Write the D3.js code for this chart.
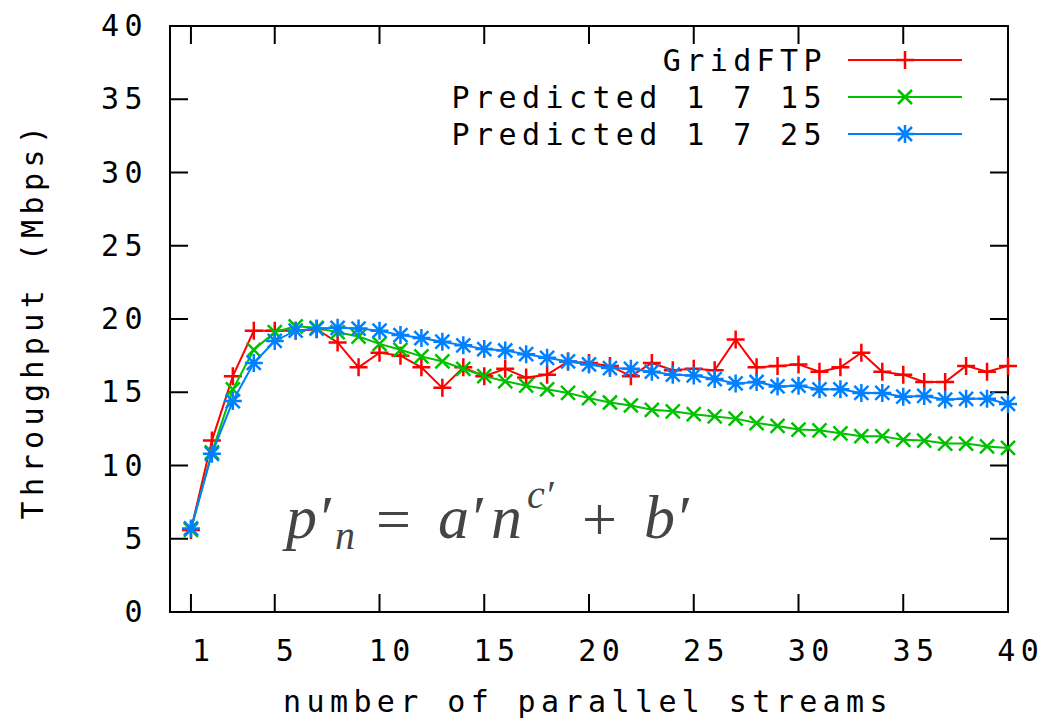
<!DOCTYPE html>
<html><head><meta charset="utf-8">
<script src="https://cdn.jsdelivr.net/npm/d3@7"></script>
<style>
html,body{margin:0;padding:0;background:#fff;}
svg{display:block;}
.lbl{font-family:"DejaVu Sans Mono",monospace;font-size:30px;letter-spacing:5.4px;fill:#000;}
.math{font-family:"Liberation Serif","DejaVu Serif",serif;fill:#444;font-size:62px;}
</style></head>
<body>
<svg id="chart" width="1045" height="719"></svg>
<script>
const streams = d3.range(1, 41);
const gridftp = [5.6,11.7,16.1,19.2,19.2,19.2,19.3,18.4,16.7,17.7,17.5,16.7,15.3,16.7,16.1,16.6,16.0,16.2,17.1,17.0,16.8,16.1,17.0,16.5,16.6,16.5,18.6,16.7,16.8,16.9,16.4,16.7,17.7,16.4,16.2,15.7,15.7,16.8,16.4,16.8];
const pred15 = [5.6,10.9,15.2,17.9,19.1,19.5,19.4,19.1,18.8,18.3,17.9,17.45,17.1,16.6,16.1,15.75,15.45,15.2,14.95,14.6,14.3,14.1,13.8,13.7,13.5,13.35,13.2,12.9,12.7,12.45,12.4,12.2,12.0,12.0,11.75,11.7,11.5,11.5,11.3,11.2];
const pred25 = [5.7,10.8,14.4,17.0,18.5,19.2,19.35,19.4,19.35,19.2,18.9,18.7,18.45,18.2,17.95,17.85,17.6,17.35,17.1,16.9,16.65,16.6,16.4,16.2,16.15,15.9,15.6,15.7,15.4,15.45,15.2,15.2,14.95,14.95,14.7,14.75,14.5,14.55,14.55,14.2];
const seriesNames = ["GridFTP","Predicted 1 7 15","Predicted 1 7 25"];
const seriesColors = ["#ff0000","#00c000","#0080ff"];
const seriesMarkers = ["plus","cross","star"];
const xTicks = [1,5,10,15,20,25,30,35,40];
const yTicks = [0,5,10,15,20,25,30,35,40];
const xTitle = "number of parallel streams";
const yTitle = "Throughput (Mbps)";

const svg = d3.select("#chart");
const L = 170, R = 1008, T = 26, B = 612;
const x = d3.scaleLinear().domain([0,40]).range([L,R]);
const y = d3.scaleLinear().domain([0,40]).range([B,T]);
const tickLen = 18;

// axes with inner ticks (and mirrored)
const g = svg.append("g").attr("stroke","#000").attr("stroke-width",2).attr("fill","none");
xTicks.forEach(t => {
  g.append("line").attr("x1",x(t)).attr("x2",x(t)).attr("y1",B).attr("y2",B-tickLen);
  g.append("line").attr("x1",x(t)).attr("x2",x(t)).attr("y1",T).attr("y2",T+tickLen);
});
yTicks.forEach(t => {
  g.append("line").attr("x1",L).attr("x2",L+tickLen).attr("y1",y(t)).attr("y2",y(t));
  g.append("line").attr("x1",R).attr("x2",R-tickLen).attr("y1",y(t)).attr("y2",y(t));
});
g.append("rect").attr("x",L).attr("y",T).attr("width",R-L).attr("height",B-T);

// tick labels
svg.append("g").selectAll("text").data(xTicks).join("text")
  .attr("class","lbl").attr("text-anchor","middle")
  .attr("x", d => x(d) + 12.7).attr("y", 661).text(d => d);
svg.append("g").selectAll("text").data(yTicks).join("text")
  .attr("class","lbl").attr("text-anchor","end")
  .attr("x", 148).attr("y", d => y(d) + 10).text(d => d);

// titles
svg.append("text").attr("class","lbl").attr("text-anchor","middle")
  .attr("x", 588).attr("y", 712).text(xTitle);
svg.append("text").attr("class","lbl").attr("text-anchor","middle")
  .attr("transform","translate(43,320) rotate(-90)").text(yTitle);

// formula  p'_n = a' n^{c'} + b'
const m = svg.append("text").attr("class","math");
const parts = [
  {t:"p\u2032", x:286, y:538, fs:62, it:true},
  {t:"n", x:335, y:549, fs:40, it:true},
  {t:"=", x:376, y:540, fs:62, it:false},
  {t:"a\u2032", x:438, y:538, fs:62, it:true},
  {t:"n", x:491, y:538, fs:62, it:true},
  {t:"c\u2032", x:527, y:508, fs:40, it:true},
  {t:"+", x:582, y:540, fs:62, it:false},
  {t:"b\u2032", x:644, y:538, fs:62, it:true}
];
parts.forEach(p => {
  m.append("tspan").attr("x",p.x).attr("y",p.y).attr("font-size",p.fs)
   .attr("font-style", p.it ? "italic" : "normal").text(p.t);
});

// markers
function markerPath(type, cx, cy){
  const s = 9, c = 7;
  const plus = `M${cx-s},${cy}H${cx+s}M${cx},${cy-s}V${cy+s}`;
  const cross = `M${cx-c},${cy-c}L${cx+c},${cy+c}M${cx-c},${cy+c}L${cx+c},${cy-c}`;
  if (type === "plus") return plus;
  if (type === "cross") return cross;
  return plus + cross;
}

const allSeries = [gridftp, pred15, pred25];
const line = d3.line().x((d,i) => x(streams[i])).y(d => y(d));
allSeries.forEach((vals, k) => {
  const sg = svg.append("g");
  sg.append("path").datum(vals).attr("d", line)
    .attr("fill","none").attr("stroke", seriesColors[k]).attr("stroke-width",2);
  sg.selectAll("path.m").data(vals).join("path").attr("class","m")
    .attr("d", (d,i) => markerPath(seriesMarkers[k], x(streams[i]), y(d)))
    .attr("stroke", seriesColors[k]).attr("stroke-width",2.5).attr("fill","none");
});

// legend
const legY = [60, 97, 134];
seriesNames.forEach((name, k) => {
  svg.append("text").attr("class","lbl").attr("text-anchor","end")
    .attr("x", 827).attr("y", legY[k] + 11).text(name);
  svg.append("line").attr("x1",848).attr("x2",962).attr("y1",legY[k]).attr("y2",legY[k])
    .attr("stroke", seriesColors[k]).attr("stroke-width",2);
  svg.append("path").attr("d", markerPath(seriesMarkers[k], 905, legY[k]))
    .attr("stroke", seriesColors[k]).attr("stroke-width",2.5).attr("fill","none");
});
</script>
</body></html>
